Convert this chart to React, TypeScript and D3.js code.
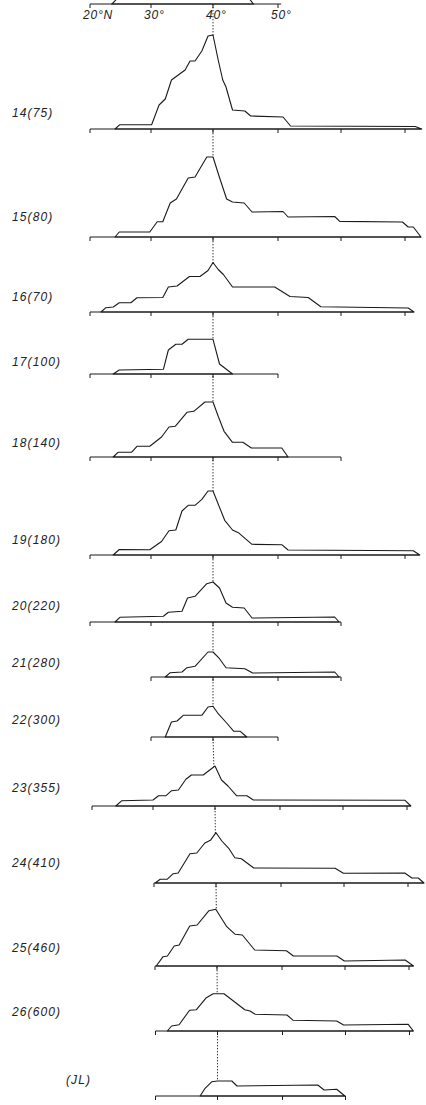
import React from 'react'
import * as d3 from 'd3'

// latitude ticks and where the scanned axis puts them
const latTicks = [20, 30, 40, 50, 60, 70]
const tickPx = [90, 151, 213, 278, 341, 405]
const topTickLabels = ['20°N', '30°', '40°', '50°']

const labels = ['14(75)', '15(80)', '16(70)', '17(100)', '18(140)', '19(180)', '20(220)',
  '21(280)', '22(300)', '23(355)', '24(410)', '25(460)', '26(600)', '(JL)']

// profiles: [latitude, relative height]
const p13: [number, number][] = [[23.6, 0], [24.7, 7], [45.4, 7], [46.2, 0]]
const p14: [number, number][] = [[24.1, 0], [24.9, 4.3], [30.1, 4.3], [31.3, 24], [32.3, 30], [33.3, 49], [35.5, 59], [36.3, 68], [37.1, 68], [38.2, 78], [39.2, 93], [40.0, 94], [40.8, 69], [41.5, 49], [42.0, 42], [43.0, 19], [44.9, 18], [45.8, 13], [50.8, 12], [52.0, 3], [71.6, 2.5], [72.6, 0]]
const p15: [number, number][] = [[24.1, 0], [24.8, 5], [29.8, 5], [31.0, 15.3], [31.9, 15.3], [33.1, 34], [34.1, 38], [36.0, 59], [37.1, 60], [39.0, 80], [40.0, 80], [41.0, 59.5], [42.1, 38], [43.0, 35], [44.8, 34], [46.0, 25], [50.8, 25.5], [51.6, 20], [59.0, 20.5], [59.8, 15.6], [69.6, 15], [70.5, 10], [71.3, 10], [72.5, 0]]
const p16: [number, number][] = [[21.8, 0], [22.6, 4.3], [23.8, 5], [24.8, 9.3], [26.7, 9.3], [27.7, 14.3], [31.9, 14.5], [32.8, 25], [34.2, 26], [36.2, 35.5], [37.9, 35.5], [39.2, 41.5], [40.0, 49.5], [40.8, 42.5], [41.6, 37.5], [43.0, 25], [49.5, 25], [51.9, 15.5], [54.8, 14.5], [56.8, 5.3], [70.5, 4], [71.4, 0]]
const p17: [number, number][] = [[23.8, 0], [24.8, 4], [32.0, 4.7], [32.8, 24], [34.0, 29.7], [35.0, 29.7], [36.0, 34.7], [40.0, 34.7], [41.0, 10], [43.0, 0]]
const p18: [number, number][] = [[23.8, 0], [24.6, 4.7], [26.8, 4.7], [27.7, 10.7], [29.8, 10.7], [31.7, 20], [32.9, 30], [33.9, 30.7], [35.8, 44.7], [36.9, 45.7], [38.7, 55], [40.0, 55], [40.8, 40.7], [41.7, 25.7], [43.0, 14.7], [44.6, 14.7], [45.9, 9], [50.6, 9], [51.6, 0]]
const p19: [number, number][] = [[23.8, 0], [24.8, 5.5], [29.8, 5.2], [31.7, 13.5], [32.9, 24.3], [34.0, 25], [35.0, 44], [36.0, 49.7], [37.1, 49.7], [38.2, 55.7], [39.2, 64], [40.0, 64], [41.8, 34.7], [43.0, 25], [43.9, 22.3], [46.0, 10.7], [50.6, 10.3], [51.6, 5], [71.3, 4.3], [72.3, 0]]
const p20: [number, number][] = [[24.1, 0], [24.9, 4.7], [32.0, 5.7], [32.8, 9.7], [35.0, 10.7], [35.9, 24], [37.1, 25.7], [39.0, 38.3], [40.0, 40], [41.0, 34], [42.0, 19], [43.0, 14.7], [44.8, 14], [46.0, 4], [59.0, 5], [59.7, 0]]
const p21: [number, number][] = [[32.3, 0], [33.1, 4.3], [35.0, 5], [35.8, 9.3], [37.1, 10.7], [39.2, 25], [40.0, 25], [41.0, 18.3], [42.0, 9.3], [44.9, 8.3], [46.1, 4], [59.0, 5], [59.7, 0]]
const p22: [number, number][] = [[32.3, 0], [33.3, 15], [34.2, 16], [35.2, 21.7], [38.2, 21.7], [39.2, 30], [40.0, 30.7], [40.8, 23.3], [42.1, 14], [43.2, 5.7], [44.2, 5.7], [45.2, 0]]
const p23: [number, number][] = [[23.9, 0], [24.9, 5.3], [30.0, 6], [30.9, 10.3], [32.1, 10.3], [33.0, 15.3], [34.1, 16], [35.3, 26.7], [36.2, 31], [38.1, 31], [40.0, 40], [41.0, 26], [42.0, 20], [43.3, 10.3], [44.9, 10.3], [45.9, 6], [69.7, 5.7], [70.6, 0]]
const p24: [number, number][] = [[30.2, 0], [31.0, 3.7], [32.1, 3.7], [33.1, 9.3], [33.9, 10], [35.8, 29.3], [36.9, 30], [38.2, 40], [39.1, 42.7], [40.0, 50.3], [40.9, 42], [42.0, 34.3], [42.9, 25.3], [43.9, 24.3], [45.8, 15], [58.6, 14.7], [59.9, 9.7], [69.5, 10], [70.6, 5], [71.6, 5], [72.5, 0]]
const p25: [number, number][] = [[30.2, 0], [31.3, 9.3], [32.0, 10], [33.1, 20], [33.9, 21], [35.6, 40], [36.8, 41], [38.7, 55.3], [39.8, 56.7], [41.5, 39.3], [42.8, 31.7], [43.9, 31], [45.8, 16], [50.7, 15.3], [51.8, 10], [58.7, 10], [59.9, 5], [69.4, 6], [70.7, 0]]
const p26: [number, number][] = [[31.9, 0], [32.6, 5], [33.8, 6.3], [35.5, 20.7], [36.6, 21.3], [38.2, 33.3], [39.3, 37.3], [41.0, 37.3], [44.2, 21.3], [45.0, 20], [45.8, 16.7], [50.7, 16], [51.7, 10.7], [58.6, 10], [59.7, 6], [69.8, 6.7], [70.6, 0]]
const pJL: [number, number][] = [[37.2, 0], [38.0, 7.7], [39.1, 14.3], [40.0, 15], [42.2, 15], [43.0, 10], [55.6, 11], [56.6, 6], [58.6, 6.7], [59.9, 0]]

const profiles = [p14, p15, p16, p17, p18, p19, p20, p21, p22, p23, p24, p25, p26, pJL]
const axisFrom = [20, 20, 20, 20, 20, 20, 20, 30, 30, 20, 30, 30, 30, 30]
const axisTo = [72.6, 72.5, 71.4, 50, 60, 72.3, 60, 60, 50, 70.6, 72.5, 70.7, 70.6, 60]

// layout of the scanned page
const baselines = [129, 237, 312, 374, 457, 555, 622, 677, 737, 806, 883, 966, 1031, 1096]
const labelY = [113, 217, 297, 362, 443, 540, 606, 663, 720, 788, 863, 948, 1012, 1080]
const labelX = [12, 12, 12, 12, 12, 12, 12, 12, 12, 12, 12, 12, 12, 66]
const shiftX = [0, 0, 0, 0, 0, 0, 0, 0, 0, 2, 3, 4, 4.5, 4.5]
const topBase = 4

const ink = '#1a1a1a'
const font = "'Liberation Sans', Arial, sans-serif"

export default function App() {
  const W = 426
  const H = 1105
  const x = d3.scaleLinear().domain(latTicks).range(tickPx)
  const h = d3.scaleLinear().domain([0, 100]).range([0, -100])
  const outline = d3.line<[number, number]>().x(d => x(d[0])).y(d => h(d[1]))
  const guide = d3.line<[number, number]>()
  const guidePts: [number, number][] = [[x(40), topBase], ...baselines.map((b, i) => [x(40) + shiftX[i], b] as [number, number])]

  const axis = (from: number, to: number, key: string) => (
    <g key={key}>
      <line x1={x(from)} x2={x(to)} y1={0} y2={0} stroke={ink} strokeWidth={1.1} />
      {latTicks.filter(t => t >= from && t <= to + 0.5).map(t => (
        <line key={t} x1={x(t)} x2={x(t)} y1={0} y2={4} stroke={ink} strokeWidth={1} />
      ))}
    </g>
  )

  return (
    <div style={{ position: 'absolute', left: 0, top: 0 }}>
      <svg width={W} height={H} viewBox={`0 0 ${W} ${H}`} style={{ display: 'block', background: '#fff' }}>
        <path d={guide(guidePts) ?? ''} fill="none" stroke="#333" strokeWidth={1} strokeDasharray="1.4,1.6" />

        {/* cropped panel at the very top with the latitude scale */}
        <g transform={`translate(0,${topBase})`}>
          <path d={(outline(p13) ?? '') + 'Z'} fill="#fff" stroke={ink} strokeWidth={1.1} />
          {axis(20, 50.5, 'top')}
          {topTicks().map((t, i) => (
            <text key={t} x={x(t) - 7} y={15} fontFamily={font} fontStyle="italic" fontSize={12}
              letterSpacing={0.8} fill="#222">{topTickLabels[i]}</text>
          ))}
        </g>

        {profiles.map((p, i) => (
          <g key={labels[i]} transform={`translate(${shiftX[i]},${baselines[i]})`}>
            <path d={(outline(p) ?? '') + 'Z'} fill="#fff" stroke={ink} strokeWidth={1.1} strokeLinejoin="round" />
            {axis(axisFrom[i], axisTo[i], 'ax' + i)}
          </g>
        ))}

        {labels.map((l, i) => (
          <text key={l} x={labelX[i]} y={labelY[i]} dominantBaseline="central" fontFamily={font}
            fontStyle="italic" fontSize={12} letterSpacing={1.1} fill="#222">{l}</text>
        ))}
      </svg>
    </div>
  )
}

function topTicks() {
  return latTicks.slice(0, topTickLabels.length)
}
